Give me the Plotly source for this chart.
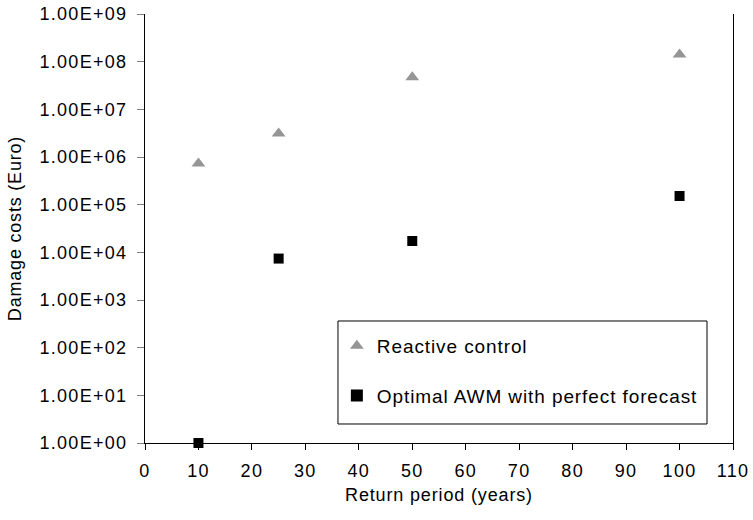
import plotly.graph_objects as go

return_period = [10, 25, 50, 100]
reactive_control = [7.3e5, 3.1e6, 4.7e7, 1.42e8]
optimal_awm = [1.0, 7.4e3, 1.73e4, 1.52e5]

y_tickvals = [1e0, 1e1, 1e2, 1e3, 1e4, 1e5, 1e6, 1e7, 1e8, 1e9]
y_ticktext = ["1.00E+00", "1.00E+01", "1.00E+02", "1.00E+03", "1.00E+04",
              "1.00E+05", "1.00E+06", "1.00E+07", "1.00E+08", "1.00E+09"]
x_tickvals = [0, 10, 20, 30, 40, 50, 60, 70, 80, 90, 100, 110]

FONT = "Liberation Sans, Arial, sans-serif"


def spaced(text, px):
    return f'<span style="letter-spacing:{px}px">{text}</span>'


fig = go.Figure()
fig.add_trace(go.Scatter(
    x=return_period, y=reactive_control, mode="markers",
    name=spaced("Reactive control", 0.9), legendgroup="a",
    marker=dict(symbol="triangle-up", size=12, color="#959595", line=dict(width=0)),
    cliponaxis=False,
))
fig.add_trace(go.Scatter(
    x=return_period, y=optimal_awm, mode="markers",
    name=spaced("Optimal AWM with perfect forecast", 0.9), legendgroup="b",
    marker=dict(symbol="square", size=10, color="#000000", line=dict(width=0)),
    cliponaxis=False,
))

# legend frame (drawn as a shape so its padding matches the reference)
fig.add_shape(type="rect", xref="paper", yref="paper",
              x0=0.3282, x1=0.9558, y0=0.0443, y1=0.2844,
              line=dict(color="#000000", width=1), fillcolor="white", layer="below")

fig.update_layout(
    width=753, height=520,
    margin=dict(l=145, r=20, t=14, b=77),
    paper_bgcolor="white", plot_bgcolor="white",
    font=dict(family=FONT, size=18, color="#000000"),
    showlegend=True,
    legend=dict(
        x=0.3263, y=0.2704, xanchor="left", yanchor="top",
        borderwidth=0, bgcolor="rgba(0,0,0,0)",
        font=dict(family=FONT, size=19, color="#000000"),
        traceorder="grouped", tracegroupgap=22,
        itemsizing="constant", itemwidth=30,
    ),
    xaxis=dict(
        range=[0, 110], tickvals=x_tickvals,
        ticktext=[spaced(str(v), 1.3) for v in x_tickvals],
        ticks="outside", ticklen=6, automargin=False, ticklabeloverflow="allow",
        tickcolor="#000000", showline=True, linecolor="#000000", linewidth=1,
        showgrid=False, zeroline=False, ticklabelstandoff=5,
        tickfont=dict(family=FONT, size=18),
        title=dict(text=spaced("Return period (years)", 0.85),
                   font=dict(family=FONT, size=18), standoff=8),
    ),
    yaxis=dict(
        type="log", range=[0, 9], tickvals=y_tickvals,
        ticktext=[spaced(t, 1.3) for t in y_ticktext],
        ticks="outside", ticklen=7, tickcolor="#808080", automargin=False,
        ticklabeloverflow="allow",
        showline=True, linecolor="#000000", linewidth=1, mirror=True,
        showgrid=False, zeroline=False, ticklabelstandoff=6,
        tickfont=dict(family=FONT, size=18),
        title=dict(text=spaced("Damage costs (Euro)", 0.8),
                   font=dict(family=FONT, size=18), standoff=13),
    ),
)

# remove the browser's default 8px body margin so the figure fills the window
fig.write_html(
    "out.html",
    config={"displayModeBar": False},
    post_script="document.body.style.margin='0';document.body.style.overflow='hidden';",
)
